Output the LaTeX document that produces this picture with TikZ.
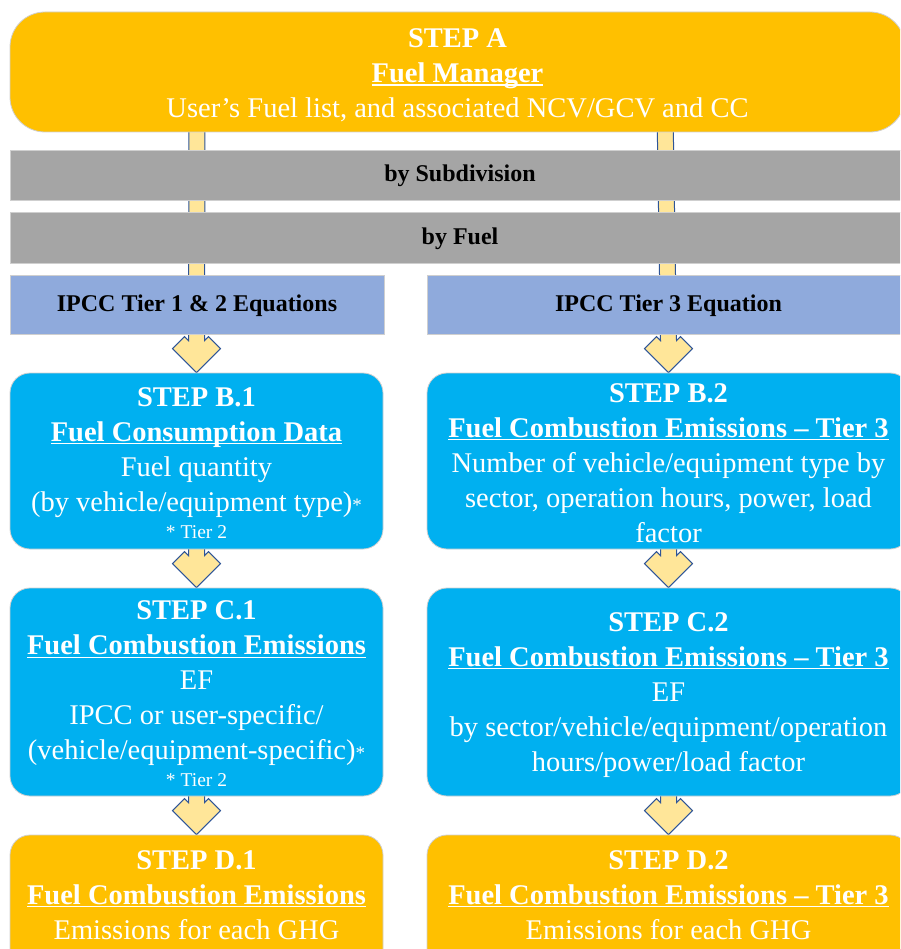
\documentclass[tikz,border=0pt]{standalone}
\usepackage{fontspec}
\setmainfont{Liberation Serif}
\usetikzlibrary{backgrounds,calc}
\definecolor{cOrange}{HTML}{FFC000}
\definecolor{cBlue}{HTML}{00B0F0}
\definecolor{cGray}{HTML}{A5A5A5}
\definecolor{cBar}{HTML}{8FAADC}
\definecolor{cArrFill}{HTML}{FFE699}
\definecolor{cArrLine}{HTML}{2F5597}
\definecolor{cEdge}{HTML}{CFCFCF}
\newcommand\myul[1]{\setbox0\hbox{#1}\rlap{\rule[-3pt]{\wd0}{1.3pt}}\box0}
\newcommand\smallast{{\fontsize{19}{20}\selectfont *}}
\newcommand\tiertwo{{\fontsize{19.5}{20}\selectfont * Tier 2}}
\newcommand\fatarrow[2]{%
  \path[fatarr] let \p1=($(#1)+(0,-10)$), \p2=(#2) in
    (\x1-8pt,\y1) -- (\x2-8pt,\y2+32pt) -- (\x2-12pt,\y2+36pt) -- (\x2-24pt,\y2+24pt) -- (\x2,\y2)
    -- (\x2+24pt,\y2+24pt) -- (\x2+12pt,\y2+36pt) -- (\x2+8pt,\y2+32pt) -- (\x1+8pt,\y1) -- cycle;}
\begin{document}
\begin{tikzpicture}[x=1pt,y=-1pt,
  boxbase/.style={draw=cEdge, line width=0.8pt, inner sep=0pt},
  stepAbox/.style={boxbase, fill=cOrange, rounded corners=35pt},
  bluebox/.style={boxbase, fill=cBlue, rounded corners=20pt},
  orangebox/.style={boxbase, fill=cOrange, rounded corners=20pt},
  txt/.style={inner sep=0pt, align=center, text=white, font=\fontsize{28.5}{35}\selectfont},
  barbase/.style={draw=cEdge, line width=0.8pt, inner sep=0pt, text height=17pt, text depth=3pt,
     font=\fontsize{24}{28}\selectfont\bfseries, text=black},
  graybar/.style={barbase, fill=cGray},
  ltbar/.style={barbase, fill=cBar},
  fatarr/.style={fill=cArrFill, draw=cArrLine, line width=1pt, line join=miter}]
\useasboundingbox (0,0) rectangle (900,949);
\clip (0,0) rectangle (900,949);

\node[stepAbox, minimum width=895pt, minimum height=120pt] (a) at (457.5,72) {};
\node[txt] (at) at (457.5,75.5)
  {{\bfseries STEP A}\\{\bfseries\myul{Fuel Manager}}\\User’s Fuel list, and associated NCV/GCV and CC};

\node[graybar, minimum width=900pt, minimum height=50pt] (sub) at (460,175) {by Subdivision};
\node[graybar, minimum width=900pt, minimum height=51pt] (fuel) at (460,237.5) {by Fuel};

\node[ltbar, minimum width=374pt, minimum height=59pt] (t12) at (197,304.5) {IPCC Tier 1 \& 2 Equations};
\node[ltbar, minimum width=483pt, minimum height=59pt] (t3) at (668.5,304.5) {IPCC Tier 3 Equation};

\node[bluebox, minimum width=373pt, minimum height=176pt] (b1) at (196.5,461) {};
\node[txt] (b1t) at (196.5,463)
  {{\bfseries STEP B.1}\\{\bfseries\myul{Fuel Consumption Data}}\\Fuel quantity\\(by vehicle/equipment type)\smallast\\[-8pt]\tiertwo};
\node[bluebox, minimum width=483pt, minimum height=176pt] (b2) at (668.5,461) {};
\node[txt] (b2t) at (668.5,463)
  {{\bfseries STEP B.2}\\{\bfseries\myul{Fuel Combustion Emissions – Tier 3}}\\Number of vehicle/equipment type by\\sector, operation hours, power, load\\factor};

\node[bluebox, minimum width=373pt, minimum height=208pt] (c1) at (196.5,692) {};
\node[txt] (c1t) at (196.5,694)
  {{\bfseries STEP C.1}\\{\bfseries\myul{Fuel Combustion Emissions}}\\EF\\IPCC or user-specific/\\(vehicle/equipment-specific)\smallast\\[-8pt]\tiertwo};
\node[bluebox, minimum width=483pt, minimum height=208pt] (c2) at (668.5,692) {};
\node[txt] (c2t) at (668.5,695)
  {{\bfseries STEP C.2}\\{\bfseries\myul{Fuel Combustion Emissions – Tier 3}}\\EF\\by sector/vehicle/equipment/operation\\hours/power/load factor};

\node[orangebox, minimum width=373pt, minimum height=140pt] (d1) at (196.5,905) {};
\node[txt] (d1t) at (196.5,895)
  {{\bfseries STEP D.1}\\{\bfseries\myul{Fuel Combustion Emissions}}\\Emissions for each GHG};
\node[orangebox, minimum width=483pt, minimum height=140pt] (d2) at (668.5,905) {};
\node[txt] (d2t) at (668.5,895)
  {{\bfseries STEP D.2}\\{\bfseries\myul{Fuel Combustion Emissions – Tier 3}}\\Emissions for each GHG};

\coordinate (aL) at (197,120);
\coordinate (aR) at (665,120);

\begin{scope}[on background layer]
  \fatarrow{aL}{b1.north}
  \fatarrow{aR}{b2.north}
  \fatarrow{b1.south}{c1.north}
  \fatarrow{b2.south}{c2.north}
  \fatarrow{c1.south}{d1.north}
  \fatarrow{c2.south}{d2.north}
\end{scope}
\end{tikzpicture}
\end{document}
